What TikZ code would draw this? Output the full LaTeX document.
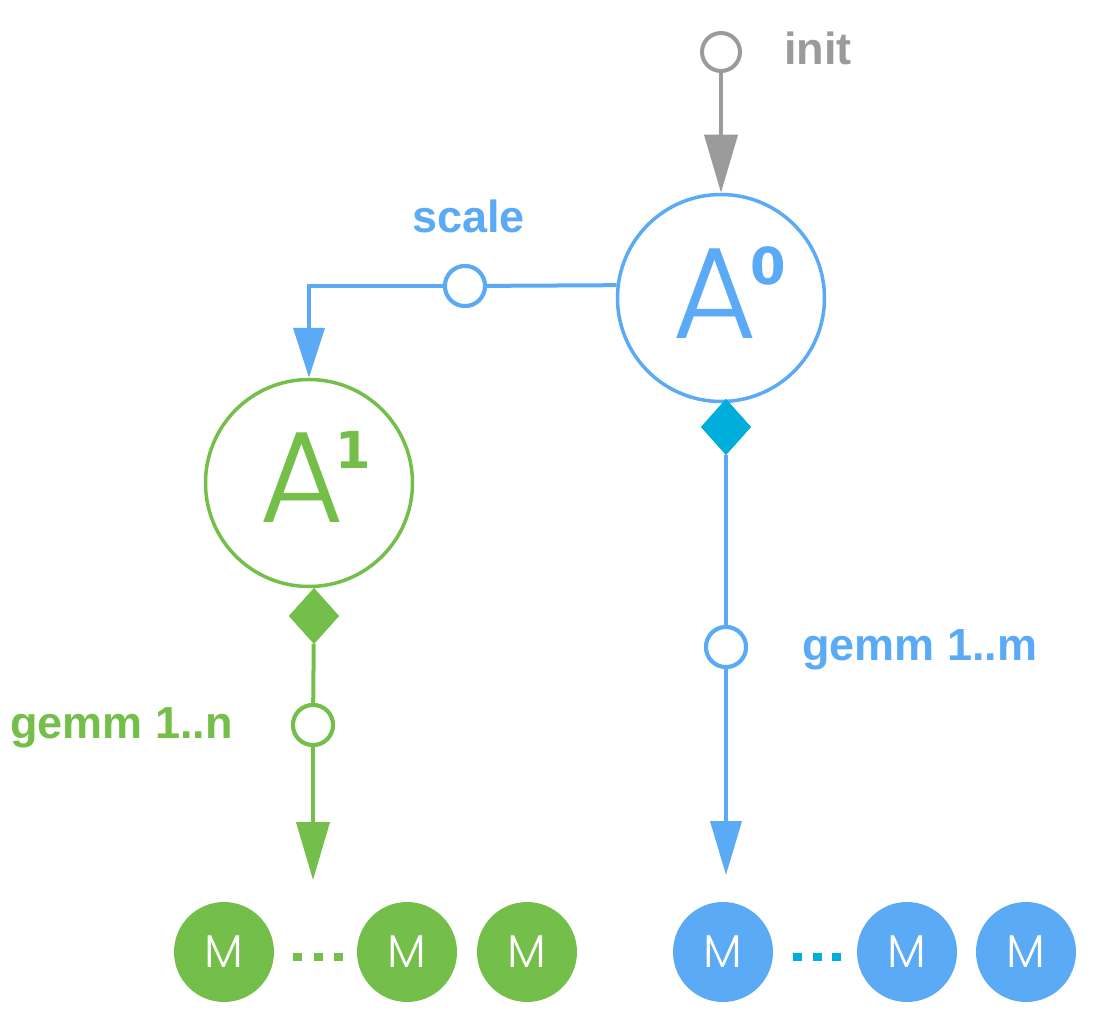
\documentclass[tikz,border=0pt]{standalone}
\usepackage{fontspec}
\usetikzlibrary{arrows.meta,shapes.geometric}
\setmainfont{Liberation Sans}
\IfFontExistsTF{Poppins-Light}
  {\newfontfamily\thinfont{Poppins-Light}}
  {\newfontfamily\thinfont{Fira Sans}}
\newfontfamily\supfont{DejaVu Sans}
\definecolor{cblue}{HTML}{5AAAF6}
\definecolor{cgreen}{HTML}{74BE4A}
\definecolor{ccyan}{HTML}{00AEDB}
\definecolor{cgray}{HTML}{9B9B9B}
\newcommand\supnum[2]{\rlap{\kern#1pt\raisebox{54pt}{\fontsize{51}{51}\supfont\bfseries #2}}}
\begin{document}
\begin{tikzpicture}[x=1pt,y=-1pt,
  big/.style={circle, draw, line width=3.5pt, minimum size=207pt, inner sep=0pt, fill=white},
  port/.style={circle, draw, line width=4pt, minimum size=40pt, inner sep=0pt, fill=white},
  dia/.style={diamond, minimum width=50pt, minimum height=56pt, inner sep=0pt},
  mnode/.style={circle, minimum size=100pt, inner sep=0pt, text=white, font=\fontsize{46}{46}\thinfont},
  conn/.style={line width=4pt},
  tip/.style={-{Triangle[length=58pt,width=33pt]}},
  lbl/.style={font=\fontsize{45}{45}\selectfont\bfseries, inner sep=0pt, anchor=base west},
  bigA/.style={font=\fontsize{130}{130}\thinfont, inner sep=0pt, anchor=base}
]
\useasboundingbox (0,0) rectangle (1096,1022);

% top: init
\node[port, draw=cgray, minimum size=38pt] (init) at (721,52) {};
\node[lbl, text=cgray] (initl) at (784,65) {init};

% A0
\node[big, draw=cblue] (A0) at (721,298) {};
\node[bigA, text=cblue] (A0t) at (715,338) {A\supnum{-7}{0}};

% A1
\node[big, draw=cgreen] (A1) at (309,483) {};
\node[bigA, text=cgreen] (A1t) at (302,522) {A\supnum{-9}{1}};

% scale
\node[port, draw=cblue] (s) at (465,286) {};
\node[lbl, text=cblue] (sl) at (412,233) {scale};

% diamonds
\node[dia, fill=ccyan] (d0) at (726,427) {};
\node[dia, fill=cgreen] (d1) at (314,616) {};

% gemm ports
\node[port, draw=cblue] (g0) at (726,647) {};
\node[lbl, text=cblue] (g0l) at (802,660) {gemm 1..m};
\node[port, draw=cgreen] (g1) at (313,725) {};
\node[lbl, text=cgreen] (g1l) at (10,738) {gemm 1..n};

% arrow end points
\coordinate (e1) at (313,880);
\coordinate (e0) at (726,875);

% connectors
\draw[conn, cgray, tip] (init) -- (A0.north);
\draw[conn, cblue] (A0.173.4) -- (s);
\draw[conn, cblue, -{Triangle[length=50pt,width=31pt]}] (s) -| (A1.north);
\draw[conn, cblue] (d0) -- (g0);
\draw[conn, cblue, -{Triangle[length=54pt,width=31pt]}] (g0) -- (e0);
\draw[conn, cgreen] (d1) -- (g1);
\draw[conn, cgreen, tip] (g1) -- (e1);

% redraw nodes on top of lines
\node[port, draw=cblue] at (s) {};
\node[port, draw=cblue] at (g0) {};
\node[port, draw=cgreen] at (g1) {};
\node[dia, fill=ccyan] at (d0) {};
\node[dia, fill=cgreen] at (d1) {};

% M nodes
\node[mnode, fill=cgreen] (m1) at (224,952) {M};
\node[mnode, fill=cgreen] (m2) at (407,952) {M};
\node[mnode, fill=cgreen] (m3) at (527,952) {M};
\node[mnode, fill=cblue] (m4) at (723,952) {M};
\node[mnode, fill=cblue] (m5) at (907,952) {M};
\node[mnode, fill=cblue] (m6) at (1026,952) {M};

% dots
\foreach \x in {297,318,338} \fill[cgreen] (\x-4.5,953) rectangle ++(9,8);
\foreach \x in {797,817,836} \fill[ccyan] (\x-4.5,953) rectangle ++(9,8);
\end{tikzpicture}
\end{document}
